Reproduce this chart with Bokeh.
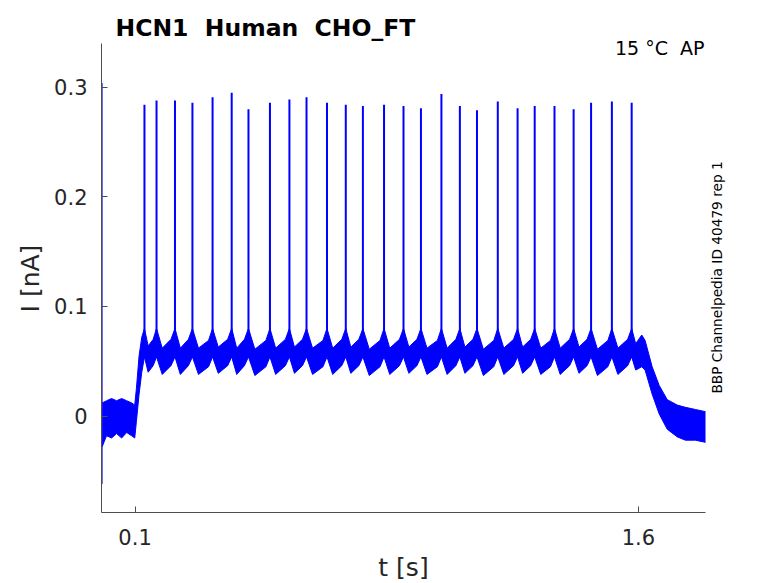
from bokeh.plotting import figure
from bokeh.models import Range1d, FixedTicker, Label
from bokeh.embed import file_html
from bokeh.resources import INLINE
import math

# ---- data ----
spike_t = [0.128, 0.164, 0.219, 0.271, 0.331, 0.388, 0.438, 0.502, 0.560, 0.611,
           0.672, 0.728, 0.779, 0.842, 0.900, 0.952, 1.013, 1.068, 1.119, 1.181,
           1.240, 1.291, 1.350, 1.407, 1.459, 1.521, 1.580]
spike_peak = [0.284, 0.288, 0.288, 0.286, 0.291, 0.295, 0.280, 0.286, 0.289, 0.291,
              0.286, 0.284, 0.283, 0.284, 0.283, 0.281, 0.294, 0.283, 0.279, 0.287,
              0.281, 0.283, 0.283, 0.280, 0.286, 0.287, 0.286]
spike_base = [0.055] * len(spike_t)

# noisy band of the trace: time, lower edge, upper edge
band_t = [0.002, 0.015, 0.030, 0.045, 0.060, 0.075, 0.090, 0.099, 0.104, 0.112, 0.120,
          0.128, 0.139, 0.154,
          0.164, 0.181, 0.207,
          0.219, 0.235, 0.259,
          0.271, 0.289, 0.319,
          0.331, 0.348, 0.376,
          0.388, 0.403, 0.426,
          0.438, 0.457, 0.490,
          0.502, 0.519, 0.548,
          0.560, 0.575, 0.599,
          0.611, 0.629, 0.660,
          0.672, 0.689, 0.716,
          0.728, 0.743, 0.767,
          0.779, 0.798, 0.830,
          0.842, 0.859, 0.888,
          0.900, 0.916, 0.940,
          0.952, 0.970, 1.001,
          1.013, 1.030, 1.056,
          1.068, 1.083, 1.107,
          1.119, 1.138, 1.169,
          1.181, 1.199, 1.228,
          1.240, 1.255, 1.279,
          1.291, 1.309, 1.338,
          1.350, 1.367, 1.395,
          1.407, 1.423, 1.447,
          1.459, 1.478, 1.509,
          1.521, 1.539, 1.568,
          1.580, 1.592, 1.610,
          1.620, 1.641, 1.662, 1.686, 1.716, 1.740, 1.770, 1.800]
band_lo = [-0.028, -0.018, -0.020, -0.016, -0.020, -0.015, -0.018, -0.020, -0.005, 0.020, 0.040,
           0.054, 0.040, 0.046,
           0.054, 0.038, 0.046,
           0.054, 0.038, 0.046,
           0.054, 0.038, 0.045,
           0.054, 0.039, 0.046,
           0.054, 0.038, 0.046,
           0.054, 0.037, 0.045,
           0.054, 0.038, 0.046,
           0.054, 0.039, 0.046,
           0.054, 0.038, 0.045,
           0.054, 0.038, 0.046,
           0.054, 0.039, 0.046,
           0.054, 0.037, 0.045,
           0.054, 0.038, 0.046,
           0.054, 0.039, 0.046,
           0.054, 0.038, 0.045,
           0.054, 0.038, 0.046,
           0.054, 0.039, 0.046,
           0.054, 0.037, 0.045,
           0.054, 0.038, 0.046,
           0.054, 0.039, 0.046,
           0.054, 0.038, 0.045,
           0.054, 0.038, 0.046,
           0.054, 0.039, 0.046,
           0.054, 0.037, 0.045,
           0.054, 0.038, 0.046,
           0.054, 0.042, 0.045,
           0.042, 0.020, 0.002, -0.012, -0.019, -0.022, -0.022, -0.024]
band_hi = [0.012, 0.014, 0.016, 0.014, 0.016, 0.014, 0.012, 0.010, 0.025, 0.055, 0.072,
           0.080, 0.064, 0.070,
           0.080, 0.062, 0.070,
           0.080, 0.062, 0.070,
           0.080, 0.062, 0.069,
           0.080, 0.063, 0.070,
           0.080, 0.062, 0.070,
           0.080, 0.061, 0.069,
           0.080, 0.062, 0.070,
           0.080, 0.063, 0.070,
           0.080, 0.062, 0.069,
           0.080, 0.062, 0.070,
           0.080, 0.063, 0.070,
           0.080, 0.061, 0.069,
           0.080, 0.062, 0.070,
           0.080, 0.063, 0.070,
           0.080, 0.062, 0.069,
           0.080, 0.062, 0.070,
           0.080, 0.063, 0.070,
           0.080, 0.061, 0.069,
           0.080, 0.062, 0.070,
           0.080, 0.063, 0.070,
           0.080, 0.062, 0.069,
           0.080, 0.062, 0.070,
           0.080, 0.063, 0.070,
           0.080, 0.061, 0.069,
           0.080, 0.062, 0.070,
           0.080, 0.066, 0.074,
           0.069, 0.045, 0.028, 0.015, 0.010, 0.008, 0.006, 0.004]

# capacitive transient at the start
transient_t = [0.001]
transient_lo = [-0.062]
transient_hi = [0.304]

x_ticks = [0.1, 1.6]
y_ticks = [0, 0.1, 0.2, 0.3]
y_tick_labels = {0: "0", 0.1: "0.1", 0.2: "0.2", 0.3: "0.3"}
x_min, x_max = 0.0, 1.8
y_min, y_max = -0.088, 0.34

title_text = "HCN1 \u00a0Human \u00a0CHO_FT"
temp_text = "15 °C \u00a0AP"
side_text = "BBP Channelpedia ID 40479 rep 1"
x_label = "t [s]"
y_label = "I [nA]"

TXT = "#262626"
AX = "#4d4d4d"
BLUE = "#0000ff"

# The frame fills the whole canvas; the axes sit at fixed data locations and are
# limited to the data bounds, so every text can be a label inside the frame.
p = figure(width=778, height=583, x_range=Range1d(-0.30099, 2.01755), y_range=Range1d(-0.15279, 0.37924),
           output_backend="svg", toolbar_location=None,
           min_border_left=0, min_border_right=0, min_border_top=0, min_border_bottom=0)
p.title.visible = False
p.outline_line_color = None
p.xgrid.visible = False
p.ygrid.visible = False
p.background_fill_color = "white"
p.border_fill_color = "white"

p.varea(x=band_t, y1=band_lo, y2=band_hi, fill_color=BLUE)
p.line(x=band_t, y=band_hi, line_color=BLUE, line_width=1)
p.line(x=band_t, y=band_lo, line_color=BLUE, line_width=1)
p.segment(x0=spike_t, y0=spike_base, x1=spike_t, y1=spike_peak, line_color=BLUE, line_width=2)
p.segment(x0=transient_t, y0=transient_lo, x1=transient_t, y1=transient_hi, line_color=BLUE, line_width=1.5)

for ax in (p.xaxis[0], p.yaxis[0]):
    ax.axis_line_color = AX
    ax.axis_line_width = 1
    ax.major_tick_line_color = AX
    ax.major_tick_in = 6
    ax.major_tick_out = 0
    ax.minor_tick_line_color = None
    ax.major_label_text_font = "DejaVu Sans"
    ax.major_label_text_font_size = "21px"
    ax.major_label_text_color = TXT

p.xaxis.ticker = FixedTicker(ticks=x_ticks)
p.yaxis.ticker = FixedTicker(ticks=y_ticks)
p.xaxis.bounds = (x_min, x_max)
p.yaxis.bounds = (y_min, y_max)
p.xaxis.fixed_location = y_min
p.yaxis.fixed_location = x_min
p.yaxis.major_label_overrides = y_tick_labels
p.xaxis.major_label_standoff = 16
p.yaxis.major_label_standoff = 14

p.add_layout(Label(x=0.9, y=-0.1382, text=x_label, text_font="DejaVu Sans",
                   text_font_size="25px", text_color=TXT,
                   text_baseline="middle", text_align="center"))
p.add_layout(Label(x=-0.2116, y=0.1255, text=y_label, text_font="DejaVu Sans",
                   text_font_size="25px", text_color=TXT, angle=math.pi / 2,
                   text_baseline="middle", text_align="center"))
p.add_layout(Label(x=0.0417, y=0.3546, text=title_text,
                   text_font="DejaVu Sans", text_font_style="bold", text_font_size="23.5px",
                   text_color="black", text_baseline="alphabetic", text_align="left"))
p.add_layout(Label(x=1.797, y=0.3363, text=temp_text,
                   text_font="DejaVu Sans", text_font_size="19px", text_color="black",
                   text_baseline="alphabetic", text_align="right"))
p.add_layout(Label(x=1.8357, y=0.1265, text=side_text,
                   text_font="DejaVu Sans", text_font_size="13.7px", text_color="black",
                   angle=math.pi / 2, text_baseline="middle", text_align="center"))

open("out.html", "w").write(file_html(p, INLINE))
